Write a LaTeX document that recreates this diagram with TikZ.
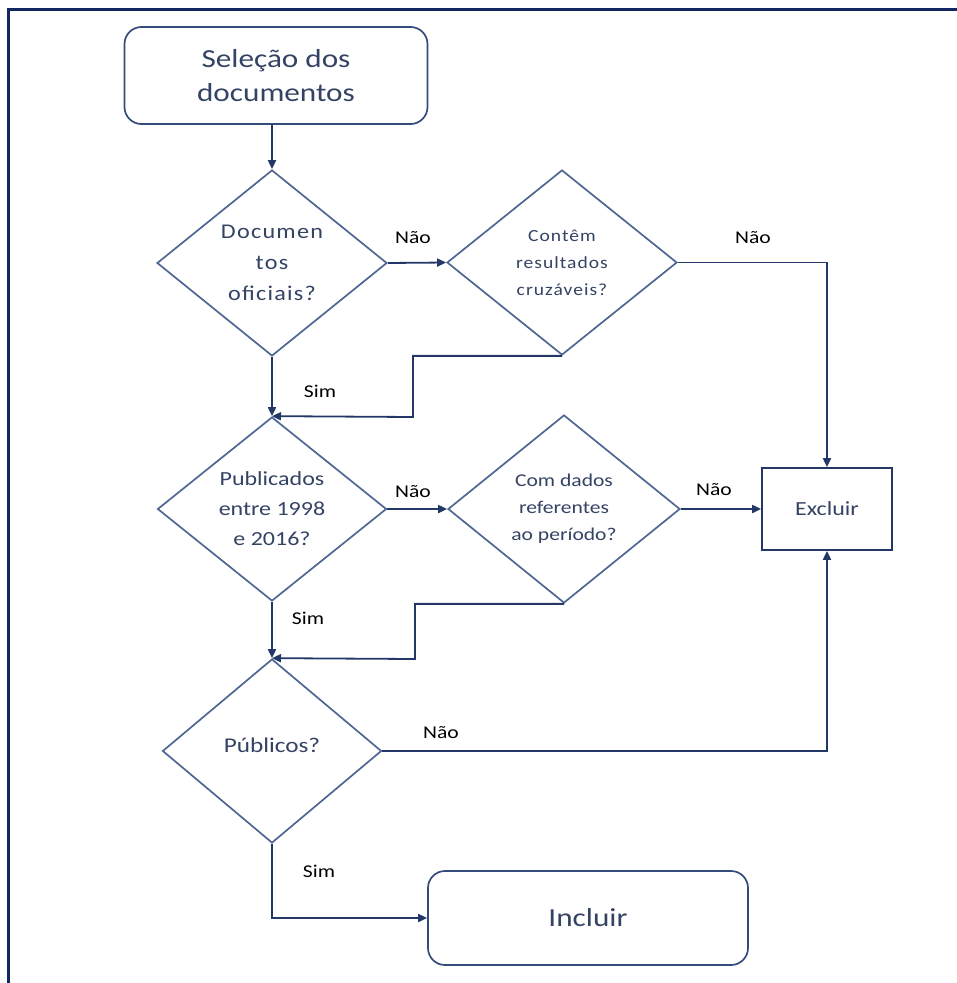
\documentclass[tikz,border=0pt]{standalone}
\usepackage{fontspec}
\setmainfont{Carlito}[FakeStretch=1.2]
\newfontfamily\spacedfont{Carlito}[FakeStretch=1.15, LetterSpace=6]
\usetikzlibrary{shapes.geometric,arrows.meta}
\definecolor{tcol}{RGB}{52,66,100}
\definecolor{dcol}{RGB}{78,102,148}
\definecolor{acol}{RGB}{36,56,104}
\definecolor{bcol}{RGB}{52,76,124}
\definecolor{fcol}{RGB}{18,38,98}
\tikzset{
  dec/.style={diamond, draw=dcol, line width=1.7pt, inner sep=0pt, align=center, text=tcol},
  roundbox/.style={rectangle, rounded corners=17pt, draw=bcol, line width=1.7pt, align=center, text=tcol},
  plainbox/.style={rectangle, draw=acol, line width=1.7pt, align=center, text=tcol},
  conn/.style={draw=acol, line width=1.8pt, -{Triangle[length=9pt,width=8pt]}},
  lbl/.style={font=\fontsize{18}{20}\selectfont, text=black, inner sep=0pt}
}
\begin{document}
\begin{tikzpicture}[x=1pt,y=-1pt]
\useasboundingbox (0,0) rectangle (957,983);
\draw[fcol, line width=3pt] (8,983) -- (8,9) -- (957,9);

\node[roundbox, minimum width=303pt, minimum height=97pt, font=\fontsize{26}{34}\selectfont] (start) at (276,75.5) {Seleção dos\\documentos};

\node[dec, minimum width=230pt, minimum height=186pt, font=\spacedfont\fontsize{21}{31}\selectfont] (d1) at (272,263) {Documen\\tos\\oficiais?};
\node[dec, minimum width=230pt, minimum height=185pt, font=\spacedfont\fontsize{17}{27}\selectfont] (d2) at (562,262.5) {Contêm\\resultados\\cruzáveis?};
\node[dec, minimum width=229pt, minimum height=184pt, font=\fontsize{20}{30}\selectfont] (d3) at (272,509) {Publicados\\entre 1998\\e 2016?};
\node[dec, minimum width=232pt, minimum height=188pt, font=\fontsize{18}{27}\selectfont] (d4) at (564,509) {Com dados\\referentes\\ao período?};
\node[dec, minimum width=219pt, minimum height=184pt, font=\fontsize{21}{26}\selectfont, text depth=0pt] (d5) at (272,751) {\raisebox{12pt}{Públicos?}};

\node[plainbox, minimum width=130pt, minimum height=82pt, font=\fontsize{20}{24}\selectfont] (excl) at (827,509) {Excluir};
\node[roundbox, minimum width=320pt, minimum height=94pt, font=\fontsize{26}{30}\selectfont] (incl) at (588,918) {Incluir};

\coordinate (j1) at (413,417);
\coordinate (j2) at (415,659);

\draw[conn] (d1.north |- start.south) -- (d1.north);
\draw[conn] (d1.east) -- (d2.west);
\draw[conn] (d1.south) -- (d3.north);
\draw[conn] (d2.south) -| (j1) -- (d3.north);
\draw[conn] (d2.east) -| (excl.north);
\draw[conn] (d3.east) -- (d4.west);
\draw[conn] (d3.south) -- (d5.north);
\draw[conn] (d4.south) -| (j2) -- (d5.north);
\draw[conn] (d4.east) -- (d4.east -| excl.west);
\draw[conn] (d5.east) -| (excl.south);
\draw[conn] (d5.south) |- (incl.west);

\node[lbl] (l1) at (413,238) {Não};
\node[lbl] (l2) at (753,238) {Não};
\node[lbl] (l3) at (320,391) {Sim};
\node[lbl] (l4) at (413,492) {Não};
\node[lbl] (l5) at (714,490) {Não};
\node[lbl] (l6) at (308,618) {Sim};
\node[lbl] (l7) at (441,733) {Não};
\node[lbl] (l8) at (319,871) {Sim};
\end{tikzpicture}
\end{document}
